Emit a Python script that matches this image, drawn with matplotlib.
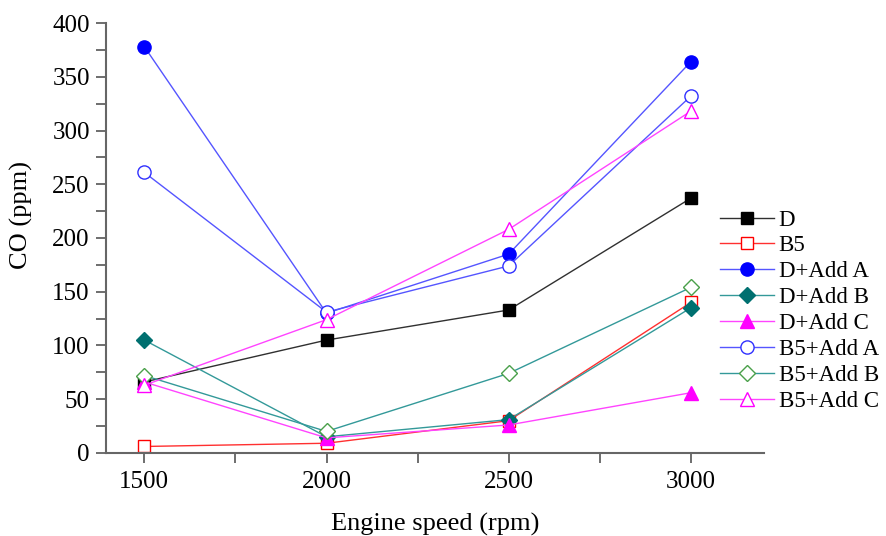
import matplotlib.pyplot as plt
from matplotlib.ticker import MultipleLocator

plt.rcParams['font.family'] = ['Liberation Serif', 'DejaVu Serif']

speed = [1500, 2000, 2500, 3000]

# CO emissions (ppm) per fuel blend
co_d = [66, 105, 133, 237]
co_b5 = [6, 9, 30, 140]
co_d_add_a = [378, 130, 185, 364]
co_d_add_b = [105, 15, 31, 135]
co_d_add_c = [66, 14, 26, 56]
co_b5_add_a = [261, 131, 174, 332]
co_b5_add_b = [72, 20, 74, 154]
co_b5_add_c = [63, 124, 208, 318]

fig = plt.figure(figsize=(8.87, 5.36), dpi=100)
ax = fig.add_axes([0.120, 0.155, 0.741, 0.802])

ms = 8.5
ax.plot(speed, co_d, color='#303030', lw=1, marker='s', ms=ms,
        mfc='black', mec='black', label='D')
ax.plot(speed, co_b5, color='#ff3030', lw=1, marker='s', ms=ms,
        mfc='white', mec='red', label='B5')
ax.plot(speed, co_d_add_a, color='#5555ff', lw=1, marker='o', ms=ms + 1,
        mfc='#0000ff', mec='#0000ff', label='D+Add A')
ax.plot(speed, co_d_add_b, color='#339999', lw=1, marker='D', ms=ms,
        mfc='#007070', mec='#007070', label='D+Add B')
ax.plot(speed, co_d_add_c, color='#ff44ff', lw=1, marker='^', ms=ms + 2,
        mfc='#ff00ff', mec='#ff00ff', label='D+Add C')
ax.plot(speed, co_b5_add_a, color='#5555ff', lw=1, marker='o', ms=ms + 1,
        mfc='white', mec='#3030ff', label='B5+Add A')
ax.plot(speed, co_b5_add_b, color='#339999', lw=1, marker='D', ms=ms,
        mfc='white', mec='#4aa04a', label='B5+Add B')
ax.plot(speed, co_b5_add_c, color='#ff44ff', lw=1, marker='^', ms=ms + 2,
        mfc='white', mec='#ff00ff', label='B5+Add C')

ax.set_xlim(1396, 3200)
ax.set_ylim(0, 400)
ax.set_xticks(speed)
ax.xaxis.set_minor_locator(MultipleLocator(250))
ax.yaxis.set_major_locator(MultipleLocator(50))
ax.yaxis.set_minor_locator(MultipleLocator(25))

for side in ['top', 'right']:
    ax.spines[side].set_visible(False)
for side in ['left', 'bottom']:
    ax.spines[side].set_color('#666666')
    ax.spines[side].set_linewidth(1.5)
ax.tick_params(axis='both', which='both', direction='out', colors='#555555',
               labelcolor='black', labelsize=18, length=7, width=1.2)
ax.tick_params(axis='y', which='major', pad=5)
ax.tick_params(axis='x', which='major', pad=6)

ax.set_xlabel('Engine speed (rpm)', fontsize=19, labelpad=14)
ax.set_ylabel('CO (ppm)', fontsize=19, labelpad=14)
ax.yaxis.label.set_y(0.553)

fig.legend(loc='upper left', bbox_to_anchor=(0.812, 0.609), frameon=False,
           fontsize=16.5, handlelength=2.35, handletextpad=0.2,
           labelspacing=0.21, borderpad=0, borderaxespad=0)

plt.savefig('out.png')
